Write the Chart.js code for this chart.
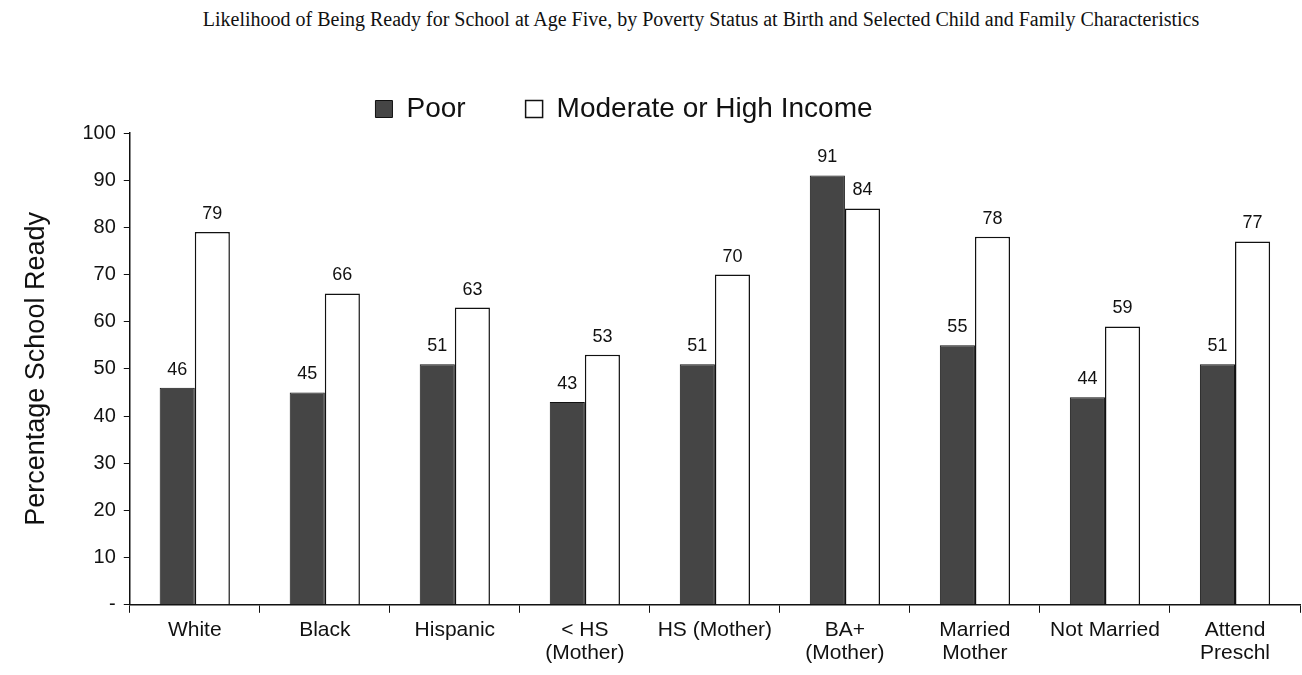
<!DOCTYPE html>
<html>
<head>
<meta charset="utf-8">
<script src="https://cdn.jsdelivr.net/npm/chart.js@4"></script>
<style>
  html, body { margin: 0; padding: 0; background: #fff; }
  #wrap { position: relative; width: 1302px; height: 675px; }
  #ttl { position: absolute; top: 8px; left: 50px; width: 1302px; text-align: center;
         font-family: "Liberation Serif", "DejaVu Serif", serif; font-size: 20px; color: #111; }
  canvas { position: absolute; top: 0; left: 0; }
</style>
</head>
<body>
<div id="wrap">
  <div id="ttl">Likelihood of Being Ready for School at Age Five, by Poverty Status at Birth and Selected Child and Family Characteristics</div>
  <canvas id="c" width="1302" height="675"></canvas>
</div>
<script>
// ── DATA ──
const cats = [
  'White', 'Black', 'Hispanic', ['< HS', '(Mother)'], 'HS (Mother)',
  ['BA+', '(Mother)'], ['Married', 'Mother'], 'Not Married', ['Attend', 'Preschl']
];
const poor = [46, 45, 51, 43, 51, 91, 55, 44, 51];
const income = [79, 66, 63, 53, 70, 84, 78, 59, 77];
const yTicks = [0, 10, 20, 30, 40, 50, 60, 70, 80, 90, 100];

const font = '"Liberation Sans", Arial, sans-serif';

// ── VALUE LABELS ──
const valueLabels = {
  id: 'valueLabels',
  afterDatasetsDraw(chart) {
    const ctx = chart.ctx;
    ctx.save();
    ctx.font = '18px ' + font;
    ctx.fillStyle = '#111';
    ctx.textAlign = 'center';
    ctx.textBaseline = 'bottom';
    chart.data.datasets.forEach((ds, i) => {
      chart.getDatasetMeta(i).data.forEach((bar, j) => {
        ctx.fillText(ds.data[j], bar.x, bar.y - 9);
      });
    });
    ctx.restore();
  }
};

// legend sits a bit left of centre in the original
const shiftLegend = {
  id: 'shiftLegend',
  afterLayout(chart) {
    chart.legend.left -= 34;
    chart.legend.right -= 34;
  }
};

new Chart(document.getElementById('c'), {
  type: 'bar',
  data: {
    labels: cats,
    datasets: [
      { label: 'Poor', data: poor, backgroundColor: '#454545', borderColor: '#111', borderWidth: 1,
        categoryPercentage: 0.54, barPercentage: 1.0 },
      { label: 'Moderate or High Income', data: income, backgroundColor: '#fff', borderColor: '#111', borderWidth: 1.5,
        categoryPercentage: 0.54, barPercentage: 1.0 }
    ]
  },
  options: {
    responsive: false,
    animation: false,
    layout: { padding: { top: 35, right: 2, left: 16, bottom: 4 } },
    plugins: {
      legend: {
        display: true,
        labels: { color: '#111', font: { family: font, size: 28 }, boxWidth: 17, boxHeight: 17, padding: 60 }
      },
      tooltip: { enabled: false }
    },
    scales: {
      x: {
        grid: { display: true, offset: true, drawOnChartArea: false, tickLength: 8, color: '#111' },
        border: { color: '#111', width: 1.5 },
        ticks: { color: '#111', font: { family: font, size: 21, lineHeight: 1.1 }, padding: 6, maxRotation: 0, autoSkip: false }
      },
      y: {
        min: 0, max: 100,
        afterBuildTicks: axis => { axis.ticks = yTicks.map(v => ({ value: v })); },
        grid: { display: true, drawOnChartArea: false, tickLength: 6, color: '#111' },
        border: { color: '#111', width: 1.5 },
        ticks: { color: '#111', font: { family: font, size: 20 }, padding: 8,
                 callback: v => v === 0 ? '-' : v },
        title: { display: true, text: 'Percentage School Ready', color: '#111',
                 font: { family: font, size: 27 }, padding: { bottom: 22 } }
      }
    }
  },
  plugins: [valueLabels, shiftLegend]
});
</script>
</body>
</html>
